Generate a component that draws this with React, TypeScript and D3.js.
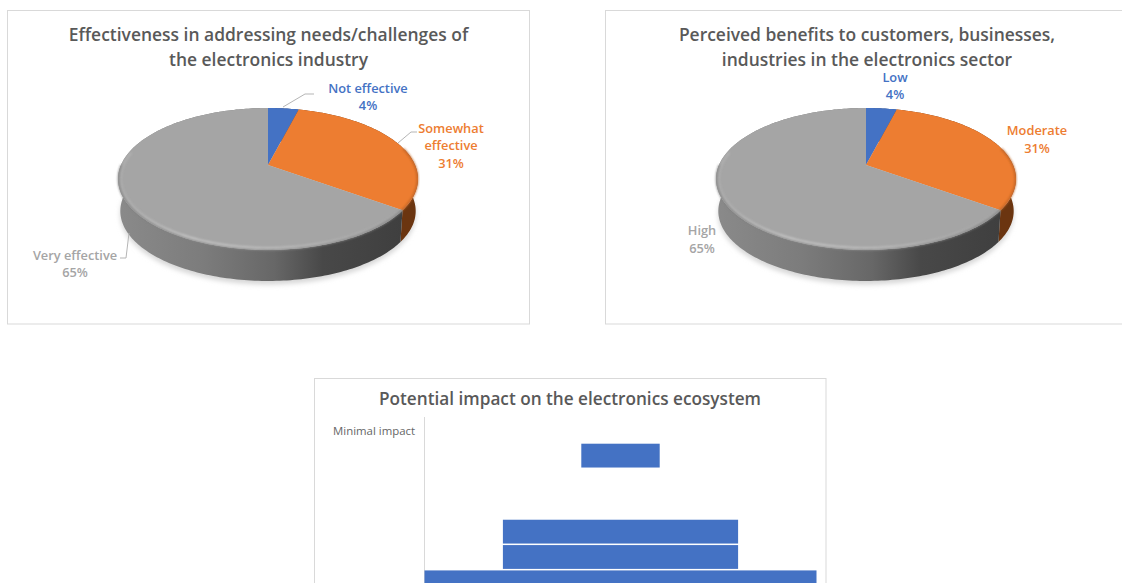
import React from "react";
import * as d3 from "d3";

const WIDTH = 1122;
const HEIGHT = 583;
const FONT = "'Open Sans', sans-serif";

const effectivenessLabels = ["Not effective", "Somewhat effective", "Very effective"];
const effectivenessValues = [4, 31, 65];
const benefitLabels = ["Low", "Moderate", "High"];
const benefitValues = [4, 31, 65];

// Impact rows run top to bottom; only the first row has a printed label.
const impactRowLabels = ["Minimal impact", "", "", "", "", "", ""];
const impactValues = [0, 1, 0, 0, 3, 3, 5];

const sliceColors = ["#4472c4", "#ed7d31", "#a5a5a5"];
const sideColors = ["#2a4578", "#6b3510", "url(#sideShade)"];

const DEPTH = 32.3;
const BASE_SHRINK = 0.985;
const TILT = 0.197;
const SCALE_X = 147;
const SCALE_Y = 68.2;
const FRONT_START = Math.PI * 0.42;
const FRONT_END = Math.PI * 1.5;

// Projects a point of the flat disc (angle clockwise from 12 o'clock, radius 0..1) to the tilted view.
function project(cx: number, cy: number, angle: number, r = 1): [number, number] {
  const u = Math.sin(angle) * r;
  const w = -Math.cos(angle) * r;
  const d = 1 - TILT * w;
  return [cx + (SCALE_X * u) / d, cy + (SCALE_Y * w) / d];
}

const lineGen = d3.line<[number, number]>().curve(d3.curveLinear);

function arcPoints(cx: number, cy: number, a0: number, a1: number, r = 1): [number, number][] {
  const n = Math.max(2, Math.ceil((a1 - a0) / 0.02));
  return d3.range(n + 1).map((i) => project(cx, cy, a0 + ((a1 - a0) * i) / n, r));
}

// The lower disc sits further from the viewer, so it is a little smaller than the top face.
function baseOf(cx: number, cy: number, p: [number, number]): [number, number] {
  return [cx + (p[0] - cx) * BASE_SHRINK, cy + (p[1] - cy) * BASE_SHRINK + DEPTH];
}

type LabelLine = { text: string; x: number; y: number };

function TiltedPie({
  cx,
  cy,
  values,
  labels,
  leaders,
}: {
  cx: number;
  cy: number;
  values: number[];
  labels: LabelLine[][];
  leaders: [number, number][][];
}) {
  const arcs = d3.pie<number>().sort(null)(values);
  const outline = arcPoints(cx, cy, 0, Math.PI * 2);
  const [, orange, gray] = arcs;
  const rim = arcPoints(cx, cy, gray.startAngle, Math.PI * 1.56, 0.982);
  const shadow = outline.map((p) => {
    const [x, y] = baseOf(cx, cy, p);
    return [x, y + 3.5] as [number, number];
  });

  return (
    <g>
      <path d={lineGen(shadow) + "Z"} fill="#d6d6d6" filter="url(#softShadow)" />
      {arcs.map((a, i) => {
        const top = arcPoints(cx, cy, a.startAngle, a.endAngle);
        const bottom = top.map((p) => baseOf(cx, cy, p)).reverse();
        return <path key={i} d={lineGen([...top, ...bottom]) + "Z"} fill={sideColors[i]} />;
      })}
      {arcs.map((a, i) => (
        <path
          key={i}
          d={lineGen([[cx, cy], ...arcPoints(cx, cy, a.startAngle, a.endAngle)]) + "Z"}
          fill={sliceColors[i]}
        />
      ))}
      {/* Rounded front edge of the top face */}
      <path
        d={lineGen(arcPoints(cx, cy, FRONT_START, orange.endAngle, 0.997)) ?? ""}
        fill="none"
        stroke="#b85f22"
        strokeWidth={1.6}
        filter="url(#rimBlur)"
      />
      <path
        d={lineGen(arcPoints(cx, cy, gray.startAngle, FRONT_END, 0.997)) ?? ""}
        fill="none"
        stroke="#808080"
        strokeWidth={1.6}
        filter="url(#rimBlur)"
      />
      <path
        d={lineGen(rim) ?? ""}
        fill="none"
        stroke="url(#rimShade)"
        strokeWidth={1.7}
        filter="url(#rimBlur)"
      />
      {leaders.map((pts, i) => (
        <path key={i} d={lineGen(pts) ?? ""} fill="none" stroke="#b5b5b5" strokeWidth={1} />
      ))}
      {labels.map((lines, i) =>
        lines.map((l) => (
          <text
            key={l.text}
            x={l.x}
            y={l.y}
            textAnchor="middle"
            dominantBaseline="central"
            fontFamily={FONT}
            fontSize={12.8}
            fontWeight={600}
            fill={sliceColors[i]}
          >
            {l.text}
          </text>
        ))
      )}
    </g>
  );
}

function Title({ x, lines, ys, size }: { x: number; lines: string[]; ys: number[]; size: number }) {
  return (
    <>
      {lines.map((t, i) => (
        <text
          key={t}
          x={x}
          y={ys[i]}
          textAnchor="middle"
          dominantBaseline="central"
          fontFamily={FONT}
          fontSize={size}
          fontWeight={600}
          fill="#595959"
        >
          {t}
        </text>
      ))}
    </>
  );
}

function ImpactBars() {
  const rows = d3.range(impactValues.length);
  const y = d3
    .scaleBand<number>()
    .domain(rows)
    .range([417.6, 595])
    .paddingInner(0.06)
    .paddingOuter(0.03);
  const halfWidth = d3.scaleLinear().domain([0, 5]).range([0, 196]);
  const axisX = 424.5;
  const centerX = axisX + halfWidth(5);
  return (
    <g>
      <line x1={axisX} x2={axisX} y1={417} y2={HEIGHT} stroke="#d9d9d9" />
      {rows
        .filter((i) => impactValues[i] > 0)
        .map((i) => (
          <rect
            key={i}
            x={centerX - halfWidth(impactValues[i])}
            width={halfWidth(impactValues[i]) * 2}
            y={y(i)}
            height={y.bandwidth()}
            fill="#4472c4"
          />
        ))}
      {rows
        .filter((i) => impactRowLabels[i])
        .map((i) => (
          <text
            key={i}
            x={415}
            y={(y(i) ?? 0) + y.bandwidth() / 2}
            textAnchor="end"
            dominantBaseline="central"
            fontFamily={FONT}
            fontSize={11.4}
            fill="#666666"
          >
            {impactRowLabels[i]}
          </text>
        ))}
    </g>
  );
}

export default function App() {
  const firstLabels: LabelLine[][] = [
    [
      { text: effectivenessLabels[0], x: 368, y: 88 },
      { text: `${effectivenessValues[0]}%`, x: 368, y: 105 },
    ],
    [
      { text: "Somewhat", x: 451, y: 128 },
      { text: "effective", x: 451, y: 145 },
      { text: `${effectivenessValues[1]}%`, x: 451, y: 163 },
    ],
    [
      { text: effectivenessLabels[2], x: 75, y: 255 },
      { text: `${effectivenessValues[2]}%`, x: 75, y: 272 },
    ],
  ];
  const secondLabels: LabelLine[][] = [
    [
      { text: benefitLabels[0], x: 895, y: 77 },
      { text: `${benefitValues[0]}%`, x: 895, y: 94 },
    ],
    [
      { text: benefitLabels[1], x: 1037, y: 130 },
      { text: `${benefitValues[1]}%`, x: 1037, y: 148 },
    ],
    [
      { text: benefitLabels[2], x: 702, y: 230 },
      { text: `${benefitValues[2]}%`, x: 702, y: 248 },
    ],
  ];
  const firstLeaders: [number, number][][] = [
    [[283, 107], [305, 94], [314, 94]],
    [[398, 143], [411, 132], [417, 132]],
    [[129, 233], [126, 258], [120, 258]],
  ];

  return (
    <svg
      width={WIDTH}
      height={HEIGHT}
      style={{ position: "fixed", left: 0, top: 0, display: "block", background: "#fff" }}
    >
      <defs>
        <linearGradient id="sideShade" gradientUnits="objectBoundingBox" x1="0" x2="1" y1="0" y2="0">
          <stop offset="0" stopColor="#8a8a8a" />
          <stop offset="0.3" stopColor="#7c7c7c" />
          <stop offset="0.55" stopColor="#676767" />
          <stop offset="0.72" stopColor="#484848" />
          <stop offset="1" stopColor="#3f3f3f" />
        </linearGradient>
        <linearGradient id="rimShade" gradientUnits="objectBoundingBox" x1="0" x2="1" y1="0" y2="0">
          <stop offset="0" stopColor="#cfcfcf" stopOpacity="0.25" />
          <stop offset="0.25" stopColor="#cfcfcf" stopOpacity="1" />
          <stop offset="0.55" stopColor="#cfcfcf" stopOpacity="0.8" />
          <stop offset="1" stopColor="#cfcfcf" stopOpacity="0" />
        </linearGradient>
        <filter id="softShadow" x="-10%" y="-10%" width="120%" height="120%">
          <feGaussianBlur stdDeviation="2.5" />
        </filter>
        <filter id="rimBlur" x="-10%" y="-10%" width="120%" height="120%">
          <feGaussianBlur stdDeviation="0.8" />
        </filter>
      </defs>

      <rect x={7.5} y={10.5} width={522} height={313.5} fill="#fff" stroke="#d9d9d9" />
      <rect x={605.5} y={10.5} width={530} height={313.5} fill="#fff" stroke="#d9d9d9" />
      <rect x={314.5} y={378.5} width={511.5} height={220} fill="#fff" stroke="#d9d9d9" />

      <TiltedPie cx={268} cy={165} values={effectivenessValues} labels={firstLabels} leaders={firstLeaders} />
      <TiltedPie cx={866} cy={165} values={benefitValues} labels={secondLabels} leaders={[]} />
      <ImpactBars />

      <Title
        x={268.5}
        size={17.45}
        lines={["Effectiveness in addressing needs/challenges of", "the electronics industry"]}
        ys={[34, 59]}
      />
      <Title
        x={867}
        size={17.45}
        lines={["Perceived benefits to customers, businesses,", "industries in the electronics sector"]}
        ys={[34, 59]}
      />
      <Title x={570} size={17.2} lines={["Potential impact on the electronics ecosystem"]} ys={[398]} />
    </svg>
  );
}
